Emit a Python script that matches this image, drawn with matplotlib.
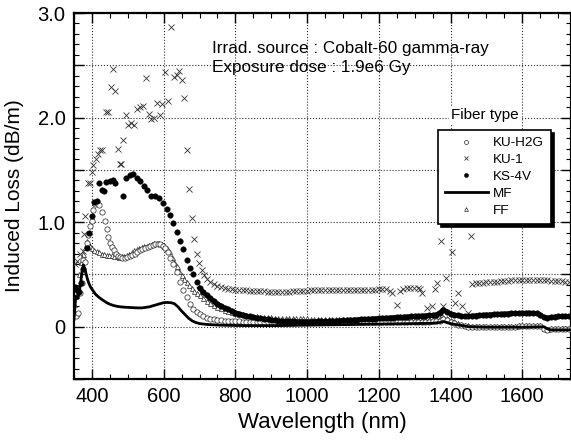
import numpy as np
import matplotlib
matplotlib.use("Agg")
import matplotlib.pyplot as plt
from matplotlib.ticker import MultipleLocator, FuncFormatter

plt.rcParams['font.family'] = ['Liberation Sans', 'DejaVu Sans']

# ---------------------------------------------------------------
# data (wavelength nm, induced loss dB/m)
# ---------------------------------------------------------------
# common wavelength grid for the long-wavelength part of the scans
wl_dense = np.arange(700, 1750, 10)   # 700 ... 1740

# KU-H2G (open circles)
kuh2g_wl_short = [350, 356, 362, 367, 371, 375, 380, 385, 390, 395, 399, 404, 408, 413,
                  420, 427, 436, 441, 446, 451, 456, 461, 467, 473, 479, 485, 492, 499,
                  506, 513, 520, 527, 534, 541, 548, 555, 562, 569, 576, 583, 590, 597,
                  604, 611, 618, 627, 636, 646, 655, 664, 674, 683, 692]
kuh2g_loss_short = [0.12, 0.10, 0.13, 0.32, 0.42, 0.64, 0.62, 0.80, 0.88, 0.96, 1.01, 1.12, 1.17, 1.18,
                    1.16, 1.10, 1.01, 0.93, 0.86, 0.80, 0.76, 0.73, 0.70, 0.68, 0.67, 0.66, 0.66, 0.665,
                    0.675, 0.69, 0.70, 0.715, 0.73, 0.745, 0.755, 0.765, 0.775, 0.785, 0.79, 0.795, 0.79, 0.775,
                    0.75, 0.71, 0.66, 0.60, 0.52, 0.43, 0.35, 0.28, 0.22, 0.17, 0.14]
kuh2g_loss_dense = [0.12, 0.10, 0.088, 0.078, 0.07, 0.065, 0.061, 0.058, 0.055, 0.053,
                    0.051, 0.05, 0.049, 0.048, 0.047, 0.046, 0.045, 0.045, 0.044, 0.044,
                    0.043, 0.043, 0.043, 0.042, 0.042, 0.042, 0.042, 0.041, 0.041, 0.041,
                    0.041, 0.041, 0.041, 0.041, 0.041, 0.041, 0.041, 0.041, 0.041, 0.041,
                    0.041, 0.041, 0.042, 0.042, 0.042, 0.042, 0.042, 0.043, 0.043, 0.043,
                    0.043, 0.043, 0.044, 0.044, 0.044, 0.045, 0.045, 0.045, 0.046, 0.046,
                    0.046, 0.047, 0.047, 0.048, 0.049, 0.05, 0.052, 0.058, 0.07, 0.06,
                    0.045, 0.032, 0.02, 0.012, 0.006, 0.002, 0.0, -0.002, -0.003, -0.003,
                    -0.003, -0.003, -0.002, -0.002, -0.001, 0.0, 0.0, 0.001, 0.002, 0.003,
                    0.004, 0.005, 0.006, 0.007, 0.007, 0.003, -0.02, -0.03, -0.025, -0.022,
                    -0.02, -0.02, -0.018, -0.018, -0.016]

# KU-1 (crosses)
ku1_wl_short = [352, 358, 368, 374, 378, 381, 390, 395, 399, 404, 411, 418, 422, 427,
                439, 446, 452, 460, 465, 474, 478, 481, 488, 495, 501, 509, 518, 525,
                534, 543, 552, 560, 566, 573, 581, 590, 596, 604, 613, 620, 629, 636,
                643, 650, 657, 664, 672, 678, 685, 692, 698, 706, 713]
ku1_loss_short = [0.60, 0.625, 0.70, 0.72, 0.89, 1.06, 1.375, 1.37, 1.48, 1.55, 1.60, 1.65, 1.69, 1.69,
                  2.05, 2.05, 2.29, 2.46, 2.25, 1.70, 1.56, 1.56, 1.79, 2.02, 1.93, 1.95, 1.93, 2.08,
                  2.10, 2.11, 2.38, 2.03, 1.99, 2.00, 2.14, 2.02, 2.13, 2.44, 2.16, 2.87, 2.39, 2.41,
                  2.45, 2.36, 2.19, 1.69, 1.32, 1.04, 0.84, 0.70, 0.61, 0.545, 0.49]
ku1_wl_mid = np.arange(720, 1230, 10)   # 720 ... 1220
ku1_loss_mid = [0.46, 0.43, 0.41, 0.39, 0.38, 0.37, 0.365, 0.36,
                0.355, 0.352, 0.35, 0.348, 0.346, 0.344, 0.342, 0.34, 0.338, 0.336,
                0.335, 0.334, 0.333, 0.332, 0.331, 0.33, 0.345, 0.345, 0.345, 0.346,
                0.346, 0.347, 0.347, 0.348, 0.348, 0.349, 0.349, 0.35, 0.35, 0.35,
                0.351, 0.351, 0.352, 0.352, 0.353, 0.353, 0.354, 0.354, 0.355, 0.355,
                0.356, 0.357, 0.358]
ku1_wl_oh = [1230, 1236, 1250, 1259, 1268, 1278, 1288, 1298, 1308, 1315, 1320, 1334,
             1348, 1357, 1362, 1373, 1378, 1387, 1404, 1413, 1422, 1431, 1450, 1457]
ku1_loss_oh = [0.34, 0.32, 0.21, 0.34, 0.36, 0.37, 0.375, 0.375, 0.37, 0.365, 0.32, 0.18,
               0.20, 0.36, 0.42, 0.82, 0.195, 0.47, 0.71, 0.23, 0.32, 0.195, 0.13, 0.87]
ku1_wl_long = np.arange(1460, 1740, 10)   # 1460 ... 1730
ku1_loss_long = [0.41, 0.415, 0.42, 0.422, 0.425, 0.427, 0.43, 0.432, 0.435, 0.437,
                 0.44, 0.442, 0.444, 0.445, 0.446, 0.447, 0.447, 0.446, 0.445, 0.444,
                 0.443, 0.442, 0.44, 0.438, 0.436, 0.434, 0.432, 0.43]

# KS-4V (filled circles)
ks4v_wl_short = [352, 358, 364, 370, 376, 385, 392, 399, 406, 413, 421, 427, 434, 439,
                 450, 458, 464, 488, 495, 506, 514, 525, 534, 545, 553, 566, 576, 588,
                 599, 608, 618, 627, 636, 646, 655, 664, 674, 683, 692]
ks4v_loss_short = [0.38, 0.35, 0.33, 0.42, 0.55, 0.75, 0.90, 1.06, 1.19, 1.20, 1.37, 1.31, 1.30, 1.38,
                   1.39, 1.40, 1.37, 1.25, 1.42, 1.45, 1.46, 1.42, 1.39, 1.35, 1.31, 1.25, 1.25, 1.23,
                   1.18, 1.13, 1.07, 0.99, 0.91, 0.82, 0.74, 0.64, 0.56, 0.50, 0.43]
ks4v_loss_dense = [0.37, 0.33, 0.30, 0.27, 0.245, 0.22, 0.20, 0.18, 0.165, 0.15,
                   0.135, 0.125, 0.115, 0.105, 0.098, 0.09, 0.085, 0.08, 0.075, 0.07,
                   0.066, 0.062, 0.058, 0.055, 0.053, 0.051, 0.05, 0.049, 0.048, 0.048,
                   0.048, 0.048, 0.049, 0.05, 0.051, 0.052, 0.053, 0.055, 0.056, 0.058,
                   0.06, 0.062, 0.064, 0.066, 0.068, 0.07, 0.072, 0.074, 0.076, 0.078,
                   0.08, 0.082, 0.084, 0.086, 0.088, 0.09, 0.092, 0.094, 0.096, 0.098,
                   0.10, 0.102, 0.104, 0.106, 0.108, 0.11, 0.115, 0.135, 0.16, 0.145,
                   0.125, 0.115, 0.108, 0.102, 0.098, 0.10, 0.104, 0.107, 0.11, 0.112,
                   0.114, 0.116, 0.118, 0.12, 0.122, 0.124, 0.126, 0.127, 0.128, 0.129,
                   0.13, 0.131, 0.132, 0.131, 0.128, 0.115, 0.09, 0.085, 0.09, 0.095,
                   0.098, 0.10, 0.10, 0.10, 0.10]

# MF (solid line)
mf_wl = [350, 354, 357, 361, 364, 368, 372, 376, 380, 384, 388, 392, 396, 400, 410, 420,
         430, 440, 450, 460, 470, 480, 490, 500, 510, 520, 530, 540, 550, 560, 570, 580,
         590, 600, 610, 620, 630, 640, 650, 660, 670, 680, 690, 700, 720, 740, 760, 780,
         800, 850, 900, 950, 1000, 1100, 1200, 1300, 1350, 1370, 1380, 1390, 1400, 1450,
         1500, 1600, 1660, 1670, 1680, 1740]
mf_loss = [0.07, 0.25, 0.29, 0.27, 0.33, 0.40, 0.52, 0.59, 0.56, 0.50, 0.45, 0.41, 0.38, 0.36, 0.31, 0.28,
           0.255, 0.232, 0.215, 0.203, 0.195, 0.19, 0.187, 0.185, 0.183, 0.181, 0.18, 0.18, 0.185, 0.19, 0.20, 0.21,
           0.22, 0.23, 0.232, 0.23, 0.22, 0.19, 0.15, 0.115, 0.08, 0.055, 0.04, 0.03, 0.022, 0.018, 0.015, 0.013,
           0.012, 0.01, 0.01, 0.012, 0.015, 0.02, 0.025, 0.03, 0.033, 0.04, 0.05, 0.04, 0.03, 0.0,
           -0.005, -0.005, 0.0, -0.02, -0.03, -0.03]

# FF (open triangles)
ff_wl_short = [350, 355, 360, 365, 370, 376, 381, 385, 390, 395, 399, 406, 413, 420, 427,
               434, 441, 448, 455, 462, 469, 476, 483, 490, 497, 504, 511, 518, 525, 532,
               539, 546, 553, 560, 567, 574, 581, 588, 595, 602, 609, 616, 623, 630, 637,
               644, 651, 658, 665, 672, 679, 686, 693]
ff_loss_short = [0.22, 0.30, 0.38, 0.50, 0.62, 0.70, 0.76, 0.82, 0.80, 0.77, 0.75, 0.73, 0.72, 0.71, 0.70,
                 0.70, 0.69, 0.69, 0.685, 0.68, 0.675, 0.67, 0.675, 0.68, 0.69, 0.70, 0.715, 0.73, 0.74, 0.75,
                 0.76, 0.77, 0.775, 0.785, 0.79, 0.80, 0.80, 0.80, 0.79, 0.775, 0.755, 0.72, 0.67, 0.62, 0.58,
                 0.53, 0.49, 0.46, 0.43, 0.40, 0.37, 0.34, 0.32]
ff_loss_dense = [0.30, 0.27, 0.245, 0.225, 0.205, 0.19, 0.175, 0.162, 0.15, 0.14,
                 0.132, 0.125, 0.118, 0.112, 0.107, 0.103, 0.10, 0.097, 0.094, 0.092,
                 0.09, 0.088, 0.086, 0.085, 0.084, 0.083, 0.082, 0.081, 0.08, 0.08,
                 0.079, 0.078, 0.078, 0.077, 0.077, 0.076, 0.076, 0.075, 0.075, 0.075,
                 0.074, 0.074, 0.074, 0.073, 0.073, 0.073, 0.072, 0.072, 0.072, 0.072,
                 0.072, 0.072, 0.072, 0.072, 0.072, 0.073, 0.073, 0.073, 0.074, 0.074,
                 0.074, 0.075, 0.075, 0.076, 0.077, 0.078, 0.08, 0.085, 0.095, 0.085,
                 0.065, 0.05, 0.035, 0.025, 0.018, 0.012, 0.008, 0.006, 0.005, 0.005,
                 0.005, 0.005, 0.006, 0.006, 0.007, 0.008, 0.009, 0.01, 0.011, 0.012,
                 0.013, 0.014, 0.015, 0.016, 0.016, 0.012, -0.01, -0.02, -0.015, -0.012,
                 -0.01, -0.01, -0.01, -0.008, -0.008]

# ---------------------------------------------------------------
# plot
# ---------------------------------------------------------------
fig = plt.figure(figsize=(5.71, 4.42), dpi=100)
ax = fig.add_axes([74 / 571, 63 / 442, 497 / 571, 366 / 442])

kuh2g_x = np.concatenate([kuh2g_wl_short, wl_dense])
kuh2g_y = np.concatenate([kuh2g_loss_short, kuh2g_loss_dense])
ku1_x = np.concatenate([ku1_wl_short, ku1_wl_mid, ku1_wl_oh, ku1_wl_long])
ku1_y = np.concatenate([ku1_loss_short, ku1_loss_mid, ku1_loss_oh, ku1_loss_long])
ks4v_x = np.concatenate([ks4v_wl_short, wl_dense])
ks4v_y = np.concatenate([ks4v_loss_short, ks4v_loss_dense])
ff_x = np.concatenate([ff_wl_short, wl_dense])
ff_y = np.concatenate([ff_loss_short, ff_loss_dense])

ax.plot(ff_x, ff_y, ls='none', marker='^', ms=3.6, mfc='white', mec='#222222',
        mew=0.5, label='FF', zorder=3)
ax.plot(kuh2g_x, kuh2g_y, ls='none', marker='o', ms=3.8, mfc='white', mec='#222222',
        mew=0.5, label='KU-H2G', zorder=3)
ax.plot(ku1_x, ku1_y, ls='none', marker='x', ms=4.0, mec='#333333',
        mew=0.6, label='KU-1', zorder=3)
ax.plot(mf_wl, mf_loss, color='black', lw=2.0, label='MF', zorder=4)
# dense scan points merge into a solid band
ax.plot(wl_dense, ks4v_loss_dense, color='black', lw=3.2, zorder=5)
ax.plot(ks4v_x, ks4v_y, ls='none', marker='o', ms=4.0, mfc='black', mec='black',
        mew=0.3, label='KS-4V', zorder=5)

ax.set_xlim(350, 1736)
ax.set_ylim(-0.5, 3.0)

ax.xaxis.set_major_locator(MultipleLocator(200))
ax.xaxis.set_minor_locator(MultipleLocator(50))
ax.yaxis.set_major_locator(MultipleLocator(0.5))
ax.yaxis.set_minor_locator(MultipleLocator(0.1))


def ylab(v, pos):
    if abs(v) < 1e-9:
        return '0'
    if abs(v - round(v)) < 1e-9:
        return '%.1f' % v
    return ''


ax.yaxis.set_major_formatter(FuncFormatter(ylab))
ax.tick_params(which='both', direction='in', top=True, right=True, labelsize=14.5,
               color='black')
ax.tick_params(which='major', length=7, width=1.0, pad=6)
ax.tick_params(which='minor', length=3.5, width=0.8)
for s in ax.spines.values():
    s.set_linewidth(1.6)

ax.grid(which='major', ls=':', color='#333333', lw=0.8)
ax.set_axisbelow(True)

ax.set_xlabel('Wavelength (nm)', fontsize=16, labelpad=4)
ax.set_ylabel('Induced Loss (dB/m)', fontsize=15, labelpad=10)

ax.text(0.278, 0.904, 'Irrad. source : Cobalt-60 gamma-ray', transform=ax.transAxes,
        fontsize=12.3, va='center', ha='left')
ax.text(0.278, 0.852, 'Exposure dose : 1.9e6 Gy', transform=ax.transAxes,
        fontsize=12.3, va='center', ha='left')

# legend (title drawn separately, sits above the frame)
handles, labels = ax.get_legend_handles_labels()
order = ['KU-H2G', 'KU-1', 'KS-4V', 'MF', 'FF']
hl = dict(zip(labels, handles))
leg = ax.legend([hl[k] for k in order], order, loc='upper left',
                bbox_to_anchor=(0.732, 0.680), borderaxespad=0, fontsize=9.7,
                handlelength=3.2, handletextpad=0.4, labelspacing=0.33,
                borderpad=0.5, markerscale=0.75, fancybox=False,
                edgecolor='black', framealpha=1,
                shadow={'ox': 2.2, 'oy': -2.2, 'facecolor': 'black',
                        'edgecolor': 'black', 'alpha': 1})
leg.get_frame().set_linewidth(1.2)
leg.set_zorder(10)

ax.text(0.759, 0.721, 'Fiber type', transform=ax.transAxes, fontsize=11,
        va='center', ha='left', zorder=11,
        bbox=dict(facecolor='white', edgecolor='none', pad=1.5))

fig.savefig('out.png', dpi=100)
